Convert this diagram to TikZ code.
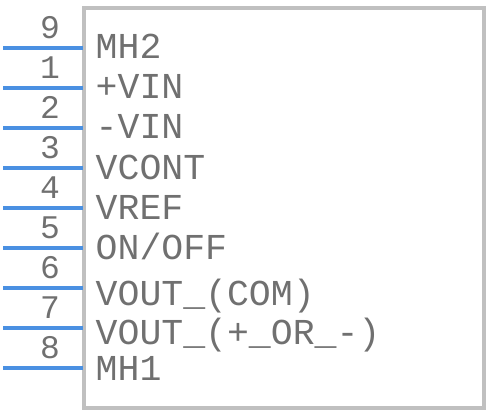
\documentclass[tikz,border=0pt]{standalone}
\usepackage{fontspec}
\setmonofont{Liberation Mono}
\definecolor{pinblue}{RGB}{74,144,226}
\definecolor{boxgray}{RGB}{192,192,192}
\definecolor{txtgray}{RGB}{112,112,112}
\begin{document}
\begin{tikzpicture}[x=1pt,y=-1pt,
  pinline/.style={draw=pinblue,line width=3.8pt},
  pinnum/.style={anchor=base,inner sep=0pt,text=txtgray,font=\ttfamily\fontsize{33}{33}\selectfont},
  pinlabel/.style={anchor=base west,inner sep=0pt,text=txtgray,font=\ttfamily\fontsize{36.5}{36.5}\selectfont},
  bodybox/.style={draw=boxgray,line width=4pt}]
\useasboundingbox (0,0) rectangle (488,412);
\draw[bodybox] (84.3,8.3) rectangle (484,407.5);
% pins: number, y of line, label, label baseline
\foreach \n/\yy/\lab/\bl [count=\i] in {9/48.3/MH2/59,1/88.3/+VIN/99,2/128.3/-VIN/139,3/168.3/VCONT/179.3,4/208.3/VREF/219.3,5/248.3/{ON/OFF}/259.3,6/288.3/{VOUT\_(COM)}/305,7/328.3/{VOUT\_(+\_OR\_-)}/344.3,8/368.3/MH1/380}{
  \coordinate (pe\i) at (3.3,\yy);
  \coordinate (ps\i) at (82.5,\yy);
  \draw[pinline] (pe\i) -- (ps\i);
  \node[pinnum] (num\i) at (50,\yy-9.5) {\n};
  \node[pinlabel] (lab\i) at (95.5,\bl) {\lab};
}
\end{tikzpicture}
\end{document}
